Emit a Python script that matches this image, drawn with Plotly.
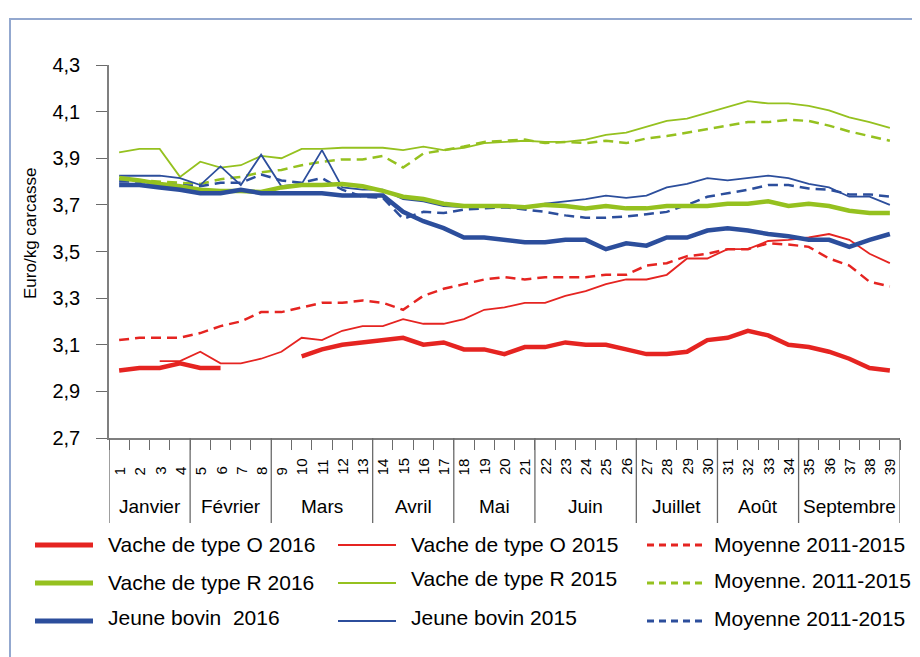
import plotly.graph_objects as go

weeks = [str(w) for w in range(1, 40)]
months = ["Janvier", "Février", "Mars", "Avril", "Mai", "Juin", "Juillet", "Août", "Septembre"]
month_weeks = [4, 4, 5, 4, 4, 5, 4, 4, 5]
y_tick_vals = [2.7, 2.9, 3.1, 3.3, 3.5, 3.7, 3.9, 4.1, 4.3]
y_tick_labels = ["2,7", "2,9", "3,1", "3,3", "3,5", "3,7", "3,9", "4,1", "4,3"]

vache_o_2016 = [2.99, 3.00, 3.00, 3.02, 3.00, 3.00, None, None, None, 3.05, 3.08, 3.10, 3.11, 3.12, 3.13,
                3.10, 3.11, 3.08, 3.08, 3.06, 3.09, 3.09, 3.11, 3.10, 3.10, 3.08, 3.06, 3.06, 3.07, 3.12,
                3.13, 3.16, 3.14, 3.10, 3.09, 3.07, 3.04, 3.00, 2.99]
vache_o_2015 = [None, None, 3.03, 3.03, 3.07, 3.02, 3.02, 3.04, 3.07, 3.13, 3.12, 3.16, 3.18, 3.18, 3.21,
                3.19, 3.19, 3.21, 3.25, 3.26, 3.28, 3.28, 3.31, 3.33, 3.36, 3.38, 3.38, 3.40, 3.47, 3.47,
                3.51, 3.51, 3.545, 3.55, 3.56, 3.575, 3.55, 3.49, 3.45]
moy_o = [3.12, 3.13, 3.13, 3.13, 3.15, 3.18, 3.20, 3.24, 3.24, 3.26, 3.28, 3.28, 3.29, 3.28, 3.25,
         3.31, 3.34, 3.36, 3.38, 3.39, 3.38, 3.39, 3.39, 3.39, 3.40, 3.40, 3.44, 3.45, 3.48, 3.49,
         3.51, 3.51, 3.535, 3.53, 3.52, 3.47, 3.44, 3.37, 3.35]
vache_r_2016 = [3.815, 3.805, 3.79, 3.78, 3.765, 3.76, 3.76, 3.755, 3.775, 3.785, 3.785, 3.79, 3.78, 3.76,
                3.735, 3.725, 3.705, 3.695, 3.695, 3.695, 3.69, 3.70, 3.695, 3.685, 3.695, 3.685, 3.685,
                3.695, 3.695, 3.695, 3.705, 3.705, 3.715, 3.695, 3.705, 3.695, 3.675, 3.665, 3.665]
vache_r_2015 = [3.925, 3.94, 3.94, 3.82, 3.885, 3.86, 3.87, 3.91, 3.90, 3.94, 3.94, 3.945, 3.945,
                3.945, 3.935, 3.95, 3.935, 3.945, 3.965, 3.97, 3.975, 3.97, 3.97, 3.98, 4.00, 4.01,
                4.035, 4.06, 4.07, 4.095, 4.12, 4.145, 4.135, 4.135, 4.125, 4.105, 4.075, 4.055, 4.03]
moy_r = [3.81, 3.805, 3.80, 3.795, 3.79, 3.81, 3.82, 3.84, 3.85, 3.87, 3.885, 3.895, 3.895, 3.91, 3.86,
         3.92, 3.935, 3.95, 3.97, 3.975, 3.98, 3.965, 3.97, 3.965, 3.975, 3.965, 3.985, 3.995, 4.01,
         4.025, 4.04, 4.055, 4.055, 4.065, 4.06, 4.04, 4.015, 3.995, 3.975]
jb_2016 = [3.785, 3.785, 3.775, 3.765, 3.75, 3.75, 3.765, 3.75, 3.75, 3.75, 3.75, 3.74, 3.74, 3.74,
           3.67, 3.63, 3.60, 3.56, 3.56, 3.55, 3.54, 3.54, 3.55, 3.55, 3.51, 3.535, 3.525, 3.56, 3.56,
           3.59, 3.60, 3.59, 3.575, 3.565, 3.55, 3.55, 3.52, 3.55, 3.575]
jb_2015 = [3.825, 3.825, 3.825, 3.815, 3.785, 3.865, 3.785, 3.915, 3.78, 3.79, 3.935, 3.775, 3.765,
           3.765, 3.725, 3.715, 3.695, 3.69, 3.69, 3.69, 3.685, 3.705, 3.715, 3.725, 3.74, 3.73, 3.74,
           3.775, 3.79, 3.815, 3.805, 3.815, 3.825, 3.815, 3.79, 3.775, 3.735, 3.735, 3.70]
moy_jb = [3.80, 3.80, 3.79, 3.785, 3.78, 3.795, 3.795, 3.83, 3.805, 3.795, 3.815, 3.765, 3.735, 3.73,
          3.64, 3.67, 3.665, 3.68, 3.685, 3.69, 3.68, 3.67, 3.655, 3.645, 3.645, 3.65, 3.66, 3.67,
          3.70, 3.735, 3.75, 3.765, 3.785, 3.785, 3.77, 3.765, 3.745, 3.745, 3.735]

RED = "#E52421"
GREEN = "#95C11F"
BLUE = "#2C4E9C"
FONT = "Liberation Sans, Arial, sans-serif"

series = [
    ("Vache de type O 2016", vache_o_2016, RED, 4.5, "solid"),
    ("Vache de type O 2015", vache_o_2015, RED, 1.8, "solid"),
    ("Moyenne 2011-2015", moy_o, RED, 2.5, "10px,6px"),
    ("Vache de type R 2016", vache_r_2016, GREEN, 4.5, "solid"),
    ("Vache de type R 2015", vache_r_2015, GREEN, 1.8, "solid"),
    ("Moyenne. 2011-2015", moy_r, GREEN, 2.5, "10px,6px"),
    ("Jeune bovin  2016", jb_2016, BLUE, 4.5, "solid"),
    ("Jeune bovin 2015", jb_2015, BLUE, 1.8, "solid"),
    ("Moyenne 2011-2015", moy_jb, BLUE, 2.5, "10px,6px"),
]

fig = go.Figure()
order = [2, 5, 8, 1, 4, 7, 3, 0, 6]
for i in order:
    name, vals, col, w, dash = series[i]
    fig.add_trace(go.Scatter(x=weeks, y=vals, mode="lines", name=name,
                             line=dict(color=col, width=w, dash=dash),
                             connectgaps=False, showlegend=False))

# page body has an 8px margin: figure coords = page coords - 8
OFF = 8
FW, FH = 920 - OFF, 657 - OFF
L, R, T, B = 109 - OFF, 900 - OFF, 65 - OFF, 438 - OFF
W, H = R - L, B - T

def px(p):
    return (p - OFF - L) / W

def py(p):
    return (B - (p - OFF)) / H

annotations = []
shapes = []
for i, w in enumerate(weeks):
    annotations.append(dict(x=i, y=py(477), xref="x", yref="paper", text=w, textangle=-90,
                            showarrow=False, yanchor="bottom", xanchor="center",
                            font=dict(size=15, color="black", family=FONT)))
start = 0
SEP = dict(color="#6b6b6b", width=1.3)
shapes.append(dict(type="line", xref="x", yref="paper", x0=-0.5, x1=-0.5, y0=0, y1=py(523), line=SEP))
for m, n in zip(months, month_weeks):
    center = start + (n - 1) / 2
    annotations.append(dict(x=center, y=py(506), xref="x", yref="paper", text=m, showarrow=False,
                            xanchor="center", yanchor="middle",
                            font=dict(size=19, color="black", family=FONT)))
    start += n
    shapes.append(dict(type="line", xref="x", yref="paper", x0=start - 0.5, x1=start - 0.5,
                       y0=0, y1=py(523), line=SEP))

annotations.append(dict(x=px(30), y=py(234), xref="paper", yref="paper", text="Euro/kg carcasse",
                        textangle=-90, showarrow=False, xanchor="center", yanchor="middle",
                        font=dict(size=17, color="black", family=FONT)))

col_line_x = [(35, 93), (338, 396), (647, 705)]
col_text_x = [106, 409, 712]
row_y = [545, 583, 621]
text_y = [[544, 544, 544], [582, 578, 580], [617, 617, 618]]
for k, (name, vals, col, w, dash) in enumerate(series):
    r, c = k // 3, k % 3
    x0, x1 = col_line_x[c]
    lw = 5 if w > 4 else (2 if w < 2 else 3)
    ldash = "solid" if dash == "solid" else "7px,5px"
    shapes.append(dict(type="line", xref="paper", yref="paper", x0=px(x0), x1=px(x1),
                       y0=py(row_y[r]), y1=py(row_y[r]), line=dict(color=col, width=lw, dash=ldash)))
    annotations.append(dict(x=px(col_text_x[c]), y=py(text_y[r][c]), xref="paper", yref="paper",
                            text=name, showarrow=False, xanchor="left", yanchor="middle",
                            font=dict(size=21, color="black", family=FONT)))

shapes.append(dict(type="rect", xref="paper", yref="paper", x0=px(10), x1=px(940),
                   y0=py(680), y1=py(19), line=dict(color="#93A8CF", width=2)))

fig.update_layout(
    width=FW, height=FH,
    margin=dict(l=L, r=FW - R, t=T, b=FH - B),
    paper_bgcolor="white", plot_bgcolor="white",
    font=dict(family=FONT, color="black"),
    annotations=annotations, shapes=shapes,
    xaxis=dict(type="category", range=[-0.5, 38.5], showticklabels=False, tickson="boundaries",
               ticks="outside", ticklen=10, tickcolor="#6b6b6b", tickwidth=1.3,
               showline=True, linecolor="#7f7f7f", linewidth=1.5, showgrid=False, zeroline=False,
               fixedrange=True),
    yaxis=dict(range=[2.7, 4.3], tickvals=y_tick_vals, ticktext=y_tick_labels, ticks="outside",
               ticklen=11, tickcolor="#6b6b6b", tickwidth=1.3, showline=True, linecolor="#7f7f7f",
               linewidth=1.5, showgrid=False, zeroline=False, ticklabelstandoff=12,
               tickfont=dict(size=20, color="black", family=FONT), fixedrange=True),
    showlegend=False,
)

fig.write_html("out.html")
